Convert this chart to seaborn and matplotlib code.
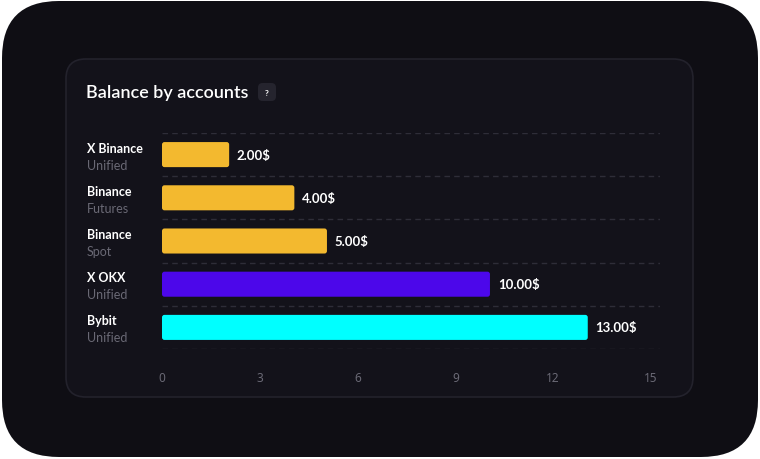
import matplotlib
matplotlib.use("Agg")
import matplotlib.pyplot as plt
import seaborn as sns
import pandas as pd
from matplotlib.patches import FancyBboxPatch

names = ["X Binance", "Binance", "Binance", "X OKX", "Bybit"]
subtypes = ["Unified", "Futures", "Spot", "Unified", "Unified"]
values = [2.0, 4.0, 5.0, 10.0, 13.0]
colors = ["#F3B92F", "#F3B92F", "#F3B92F", "#4C07EA", "#00FFFF"]
xticks = [0, 3, 6, 9, 12, 15]
title = "Balance by accounts"

sns.set_theme(style="dark")
plt.rcParams['font.family'] = ['Lato', 'DejaVu Sans']

W, H = 760, 460
fig = plt.figure(figsize=(W / 100, H / 100), dpi=100)
fig.patch.set_facecolor("white")

def fx(px):
    return px / W

def fy(py):
    return 1 - py / H

# outer rounded background
outer = FancyBboxPatch((fx(2), fy(458)), fx(756), 456 / H,
                       boxstyle="round,pad=0,rounding_size=0.075",
                       transform=fig.transFigure, facecolor="#0F0E14",
                       edgecolor="none", mutation_aspect=W / H, zorder=0)
fig.patches.append(outer)
# inner card
card = FancyBboxPatch((fx(66), fy(398)), fx(627), 338 / H,
                      boxstyle="round,pad=0,rounding_size=0.026",
                      transform=fig.transFigure, facecolor="#13121A",
                      edgecolor="#23222C", linewidth=1.2,
                      mutation_aspect=W / H, zorder=1)
fig.patches.append(card)

# title + help badge
fig.text(fx(86), fy(93), title, color="white", fontsize=13,
         fontweight="semibold", va="center", ha="left", zorder=3)
badge = FancyBboxPatch((fx(258), fy(102)), fx(18), 18 / H,
                       boxstyle="round,pad=0,rounding_size=0.006",
                       transform=fig.transFigure, facecolor="#25242E",
                       edgecolor="none", mutation_aspect=W / H, zorder=2)
fig.patches.append(badge)
fig.text(fx(267), fy(93), "?", color="white", fontsize=6, fontweight="bold",
         ha="center", va="center", zorder=3)

# axes
left, right, top, bottom = 162, 660, 134, 350
ax = fig.add_axes([fx(left), fy(bottom), fx(right - left), (bottom - top) / H])
ax.set_facecolor("none")
ax.set_zorder(3)

labels = [f"{n}\n{s}" for n, s in zip(names, subtypes)]
df = pd.DataFrame({"label": labels, "value": values})
sns.barplot(data=df, x="value", y="label", hue="label", palette=colors,
            legend=False, orient="h", width=0.58, ax=ax, saturation=1)

xmax = 15 * (right - left) / (651 - left)
ax.set_xlim(0, xmax)
ax.set_ylim(len(values) - 0.5, -0.5)

# replace bars by rounded versions
pxx = (right - left) / xmax
pxy = (bottom - top) / len(values)
rad_px = 2.5
for p in list(ax.patches):
    x0, y0 = p.get_x(), p.get_y()
    w, h = p.get_width(), p.get_height()
    fc = p.get_facecolor()
    p.remove()
    ax.add_patch(FancyBboxPatch((x0, y0), w + 0.06, h,
                                boxstyle=f"round,pad=0,rounding_size={rad_px / pxx}",
                                mutation_aspect=pxx / pxy, facecolor=fc,
                                edgecolor="none", zorder=2))

ax.set_xticks(xticks)
ax.set_xticklabels([str(t) for t in xticks], color="#6A6975", fontsize=8.5,
                   family=["Noto Sans", "DejaVu Sans"])
ax.tick_params(axis="x", length=0, pad=16)
ax.set_yticks([])
ax.set_xlabel("")
ax.set_ylabel("")
for s in ax.spines.values():
    s.set_visible(False)

for yb in [i - 0.5 for i in range(len(values) + 1)]:
    ax.axhline(yb, color="#2E2D38", linewidth=1, linestyle=(0, (4, 3)), zorder=0)

for i, (n, s, v) in enumerate(zip(names, subtypes, values)):
    ax.text(v + 0.3, i, f"{v:.2f}$", color="white", fontsize=9.5,
            fontweight="bold", va="center", ha="left")

# y labels at fixed pixel x
for i, (n, s) in enumerate(zip(names, subtypes)):
    cy = top + pxy * (i + 0.5)
    fig.text(fx(87), fy(cy - 7), n, color="white", fontsize=9,
             fontweight="bold", va="center", ha="left", zorder=4)
    fig.text(fx(87), fy(cy + 10), s, color="#6A6975", fontsize=9,
             va="center", ha="left", zorder=4)

fig.savefig("out.png", dpi=100, facecolor=fig.get_facecolor())
